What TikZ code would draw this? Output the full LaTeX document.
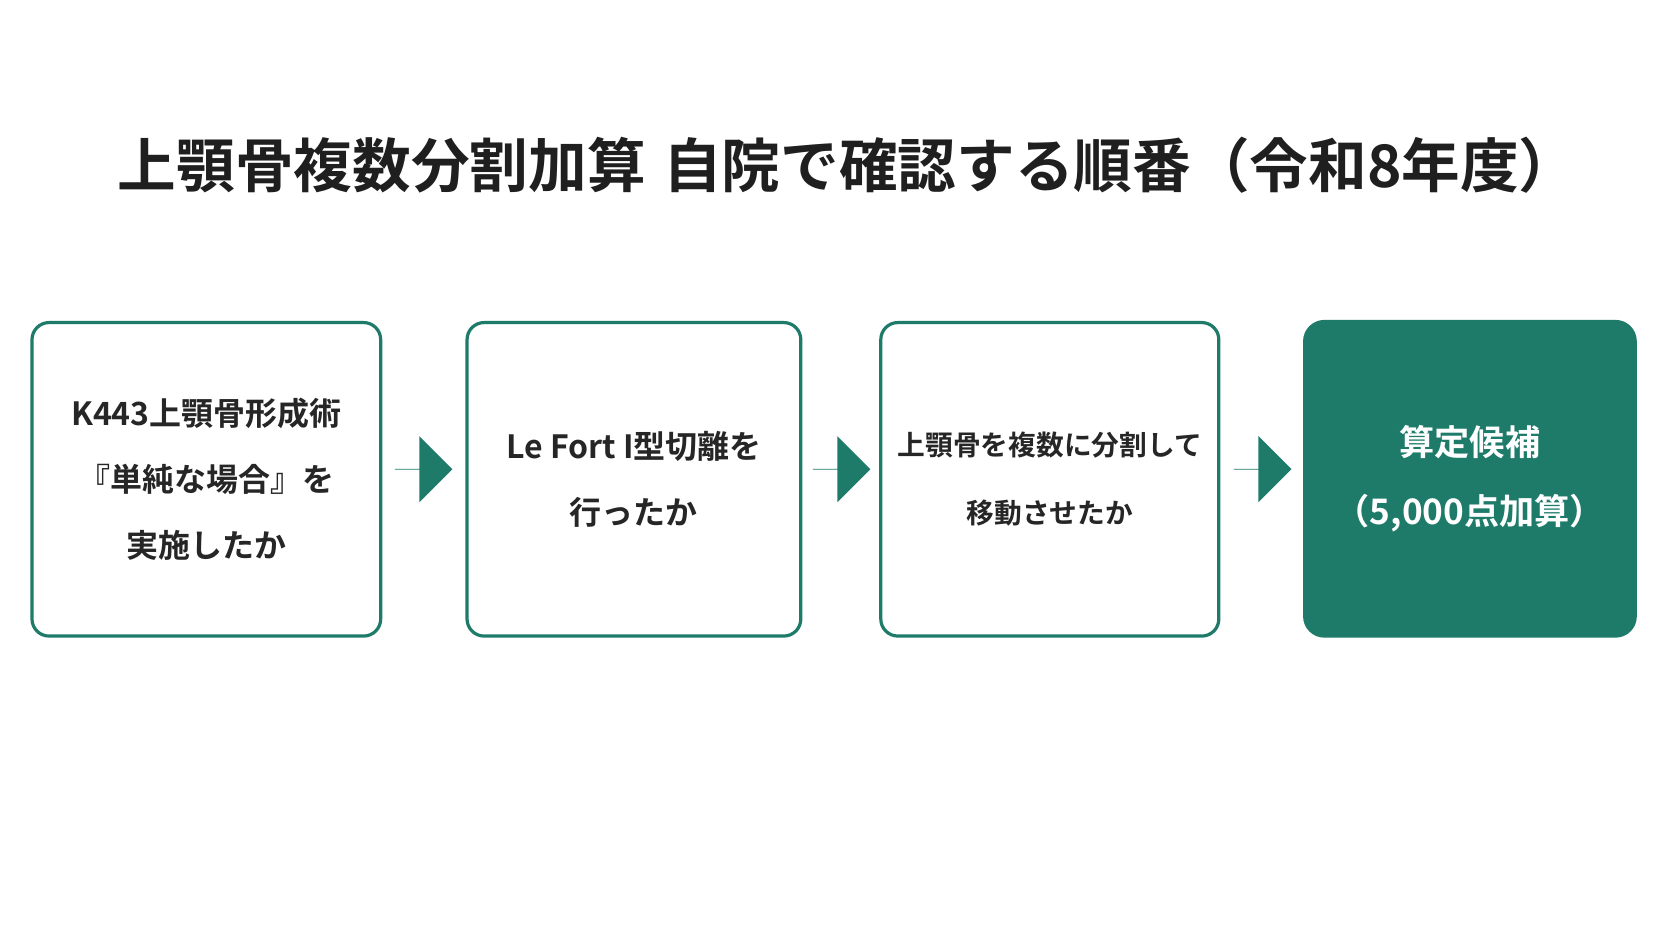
\documentclass[tikz,border=0pt]{standalone}
\usepackage{fontspec}
\setmainfont{Noto Sans CJK JP}[BoldFont={* Bold}]
\usetikzlibrary{shapes.arrows}
\definecolor{teal}{HTML}{1E7B6A}
\begin{document}
\begin{tikzpicture}
        [x=1pt, y=-1pt,
        check/.style={draw=teal, line width=3pt, rounded corners=16pt, minimum width=325pt, minimum height=294pt, inner sep=0pt, align=center, font=\bfseries\fontsize{30}{62}\selectfont, text=black!85},
        goal/.style={fill=teal, rounded corners=20pt, minimum width=313pt, minimum height=298pt, align=center, font=\bfseries\fontsize{33}{64}\selectfont, text=white},
        flow/.style={single arrow, fill=teal, minimum width=62pt, single arrow head extend=16pt, minimum height=54pt, inner sep=0pt, single arrow tip angle=90, anchor=west}]
        \useasboundingbox (0,0) rectangle (1568,882);
        \fill[white] (0,0) rectangle (1568,882);
        
        % Title
        \node[font=\bfseries\fontsize{55}{60}\selectfont, text=black!88] (title) at (795,155) {上顎骨複数分割加算\hspace{0.3em}自院で確認する順番（令和8年度）};
        
        % Steps
        \node[check, minimum width=327pt] (s1) at (193.5,449.5) {K443上顎骨形成術\\『単純な場合』を\\実施したか};
        \node[check, minimum width=313pt] (s2) at (594.5,449.5) {Le Fort I型切離を\\行ったか};
        \node[check, minimum width=317pt, font=\bfseries\fontsize{26}{64}\selectfont] (s3) at (984.5,449.5) {上顎骨を複数に分割して\\移動させたか};
        \node[goal] (s4) at (1378.5,449) {算定候補\\（5,000点加算）};
        
        % Arrows between steps
        \node[flow] (a1) at (370,440) {};
        \node[flow] (a2) at (762,440) {};
        \node[flow] (a3) at (1157,440) {};
        
    \end{tikzpicture}
\end{document}
